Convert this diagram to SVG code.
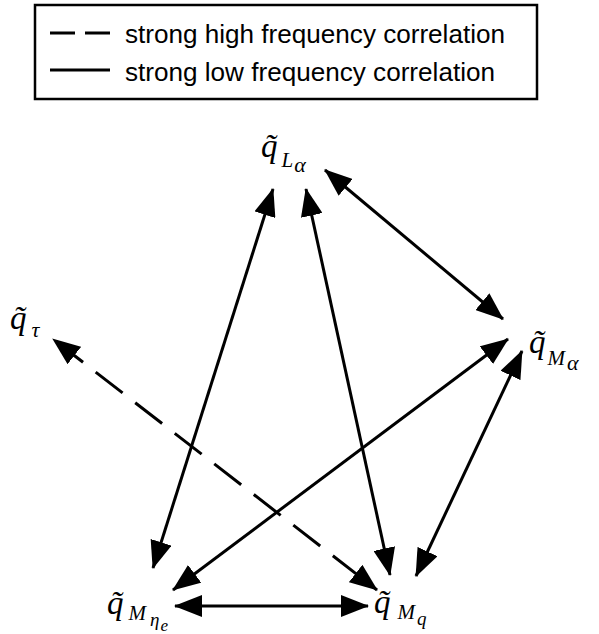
<svg xmlns="http://www.w3.org/2000/svg" width="599" height="634" viewBox="0 0 599 634">
<style>
.lg{font-family:"Liberation Sans",Arial,sans-serif;font-size:26px;fill:#000}
.q{font-family:"Liberation Serif","Times New Roman",serif;font-style:italic;font-size:33px;fill:#000}
.s{font-size:21px}
.c{stroke:#000;stroke-width:3;fill:none}
.d{stroke-dasharray:34 16}
</style>
<defs>
<marker id="ah" markerUnits="userSpaceOnUse" markerWidth="28" markerHeight="22" refX="27" refY="11" orient="auto-start-reverse" viewBox="0 0 28 22">
<path d="M0,0 L28,11 L0,22 z" fill="#000"/>
</marker>
</defs>
<g id="legend">
<rect x="35" y="5" width="502" height="94" fill="none" stroke="#000" stroke-width="2.5"/>
<line x1="50" y1="33" x2="110" y2="33" class="c" stroke-dasharray="25 10"/>
<line x1="50" y1="70" x2="110" y2="70" class="c"/>
<text x="125" y="43" class="lg" textLength="380" lengthAdjust="spacingAndGlyphs">strong high frequency correlation</text>
<text x="125" y="81" class="lg" textLength="370" lengthAdjust="spacingAndGlyphs">strong low frequency correlation</text>
</g>
<g id="connectors">
<line class="c" x1="273" y1="189" x2="153" y2="568" marker-start="url(#ah)" marker-end="url(#ah)"/>
<line class="c" x1="306" y1="189" x2="390" y2="575" marker-start="url(#ah)" marker-end="url(#ah)"/>
<line class="c" x1="325" y1="170" x2="503" y2="319" marker-start="url(#ah)" marker-end="url(#ah)"/>
<line class="c" x1="508" y1="339" x2="173" y2="590" marker-start="url(#ah)" marker-end="url(#ah)"/>
<line class="c" x1="522" y1="351" x2="416" y2="576" marker-start="url(#ah)" marker-end="url(#ah)"/>
<line class="c" x1="175" y1="606" x2="368" y2="606" marker-start="url(#ah)" marker-end="url(#ah)"/>
<line class="c d" x1="53" y1="339" x2="377" y2="590" stroke-dashoffset="-4" marker-start="url(#ah)" marker-end="url(#ah)"/>
</g>
<g id="n-L">
<text x="261" y="157" class="q">q̃<tspan class="s" dx="4" dy="10">L</tspan><tspan class="s" dx="1" dy="5" style="font-size:22px">α</tspan></text>
</g>
<g id="n-tau">
<text x="10" y="329" class="q">q̃<tspan class="s" dx="5" dy="8" style="font-size:22px">τ</tspan></text>
</g>
<g id="n-Malpha">
<text x="529" y="353" class="q">q̃<tspan class="s" dx="2" dy="12">M</tspan><tspan class="s" dx="2" dy="5" style="font-size:22px">α</tspan></text>
</g>
<g id="n-Meta">
<text x="107" y="614" class="q">q̃<tspan class="s" dx="5" dy="6">M</tspan><tspan class="s" dx="4" dy="6" style="font-size:19px">η</tspan><tspan class="s" dx="1" dy="5" style="font-size:17px">e</tspan></text>
</g>
<g id="n-Mq">
<text x="374" y="613" class="q">q̃<tspan class="s" dx="7" dy="6">M</tspan><tspan class="s" dx="2" dy="6" style="font-size:19px">q</tspan></text>
</g>
</svg>
